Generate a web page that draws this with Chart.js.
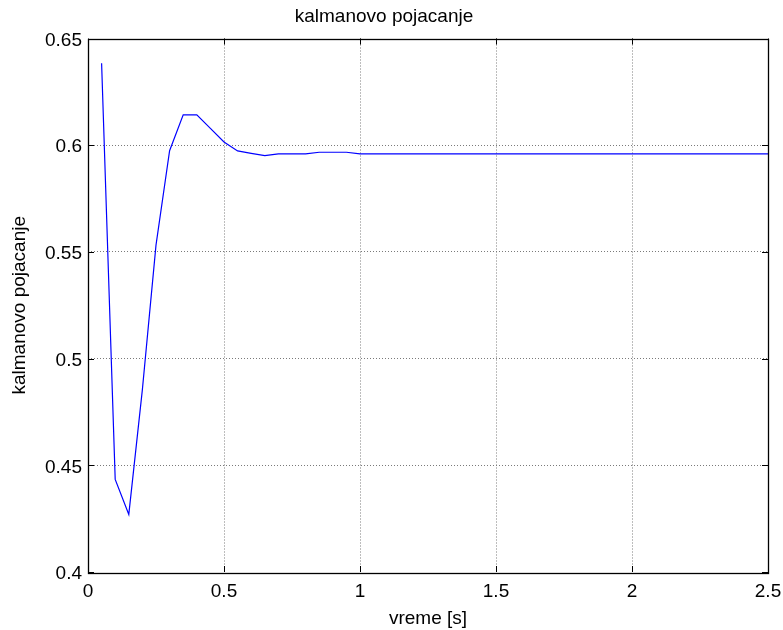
<!DOCTYPE html>
<html>
<head>
<meta charset="utf-8">
<script src="https://cdn.jsdelivr.net/npm/chart.js@4.4.1/dist/chart.umd.min.js"></script>
<style>
  html, body { margin: 0; padding: 0; background: #ffffff; }
  #wrap { width: 783px; height: 630px; }
</style>
</head>
<body>
<div id="wrap"><canvas id="c" width="783" height="630"></canvas></div>
<script>
// Time samples [s]
const timeS = [
  0.05, 0.10, 0.15, 0.20, 0.25, 0.30, 0.35, 0.40, 0.45, 0.50,
  0.55, 0.60, 0.65, 0.70, 0.75, 0.80, 0.85, 0.90, 0.95, 1.00,
  1.05, 1.10, 1.15, 1.20, 1.25, 1.30, 1.35, 1.40, 1.45, 1.50,
  1.55, 1.60, 1.65, 1.70, 1.75, 1.80, 1.85, 1.90, 1.95, 2.00,
  2.05, 2.10, 2.15, 2.20, 2.25, 2.30, 2.35, 2.40, 2.45, 2.50
];

// Kalman gain at each sample
const kalmanGain = [
  0.6384, 0.4434, 0.4270, 0.4856, 0.5532, 0.5974, 0.6142, 0.6142, 0.6079, 0.6015,
  0.5973, 0.5962, 0.5951, 0.5959, 0.5959, 0.5959, 0.5967, 0.5967, 0.5967, 0.5959,
  0.5959, 0.5959, 0.5959, 0.5959, 0.5959, 0.5959, 0.5959, 0.5959, 0.5959, 0.5959,
  0.5959, 0.5959, 0.5959, 0.5959, 0.5959, 0.5959, 0.5959, 0.5959, 0.5959, 0.5959,
  0.5959, 0.5959, 0.5959, 0.5959, 0.5959, 0.5959, 0.5959, 0.5959, 0.5959, 0.5959
];

// Axis tick values
const xTickValues = [0, 0.5, 1, 1.5, 2, 2.5];
const yTickValues = [0.4, 0.45, 0.5, 0.55, 0.6, 0.65];

const FONT = '"Liberation Sans", Arial, Helvetica, sans-serif';
const fmt = v => String(+Number(v).toFixed(2));

// Boxed axes with inward tick marks on all four sides
const boxFrame = {
  id: 'boxFrame',
  afterDraw(chart) {
    const { ctx, chartArea: a, scales } = chart;
    const tickLen = 6;
    ctx.save();
    ctx.strokeStyle = '#000000';
    ctx.lineWidth = 1;
    ctx.beginPath();
    xTickValues.forEach(v => {
      const px = Math.round(scales.x.getPixelForValue(v)) + 0.5;
      ctx.moveTo(px, a.bottom); ctx.lineTo(px, a.bottom - tickLen);
      ctx.moveTo(px, a.top);    ctx.lineTo(px, a.top + tickLen);
    });
    yTickValues.forEach(v => {
      const py = Math.round(scales.y.getPixelForValue(v)) + 0.5;
      ctx.moveTo(a.left, py);  ctx.lineTo(a.left + tickLen, py);
      ctx.moveTo(a.right, py); ctx.lineTo(a.right - tickLen, py);
    });
    ctx.stroke();
    ctx.lineWidth = 1.3;
    ctx.strokeRect(Math.round(a.left) + 0.5, Math.round(a.top) + 0.5,
                   Math.round(a.right - a.left), Math.round(a.bottom - a.top));
    ctx.restore();
  }
};

const gridColor = ctx => {
  const v = ctx.tick ? ctx.tick.value : null;
  const s = ctx.scale;
  if (v === null || Math.abs(v - s.min) < 1e-9 || Math.abs(v - s.max) < 1e-9) return 'rgba(0,0,0,0)';
  return '#7a7a7a';
};

new Chart(document.getElementById('c'), {
  type: 'line',
  data: {
    datasets: [{
      data: timeS.map((t, i) => ({ x: t, y: kalmanGain[i] })),
      borderColor: '#0000ff',
      borderWidth: 1.2,
      pointRadius: 0,
      tension: 0,
      fill: false
    }]
  },
  options: {
    responsive: false,
    animation: false,
    devicePixelRatio: 1,
    layout: { padding: { left: 0, right: 15, top: 0, bottom: 0 } },
    plugins: {
      legend: { display: false },
      tooltip: { enabled: false },
      title: {
        display: true,
        text: 'kalmanovo pojacanje',
        color: '#000000',
        font: { family: FONT, size: 19, weight: 'normal' },
        padding: { top: 5, bottom: 10.7 }
      }
    },
    scales: {
      x: {
        type: 'linear',
        min: 0,
        max: 2.5,
        afterBuildTicks: s => { s.ticks = xTickValues.map(v => ({ value: v })); },
        afterFit: s => { s.height = 58; s.paddingLeft = 0; s.paddingRight = 0; },
        grid: { color: gridColor, lineWidth: 1, drawTicks: false },
        border: { display: false, dash: [1, 2] },
        ticks: {
          color: '#000000',
          font: { family: FONT, size: 19 },
          padding: 8,
          maxRotation: 0,
          autoSkip: false,
          callback: v => fmt(v)
        },
        title: {
          display: true,
          text: 'vreme [s]',
          color: '#000000',
          font: { family: FONT, size: 19 },
          padding: { top: 2.2, bottom: 0 }
        }
      },
      y: {
        type: 'linear',
        min: 0.4,
        max: 0.65,
        afterBuildTicks: s => { s.ticks = yTickValues.map(v => ({ value: v })); },
        afterFit: s => { s.width = 88; s.paddingTop = 0; s.paddingBottom = 0; },
        grid: { color: gridColor, lineWidth: 1, drawTicks: false },
        border: { display: false, dash: [1, 2] },
        ticks: {
          color: '#000000',
          font: { family: FONT, size: 19 },
          padding: 6,
          labelOffset: 2,
          autoSkip: false,
          callback: v => fmt(v)
        },
        title: {
          display: true,
          text: 'kalmanovo pojacanje',
          color: '#000000',
          font: { family: FONT, size: 19 },
          padding: { top: 8.6, bottom: 0 }
        }
      }
    }
  },
  plugins: [boxFrame]
});
</script>
</body>
</html>
